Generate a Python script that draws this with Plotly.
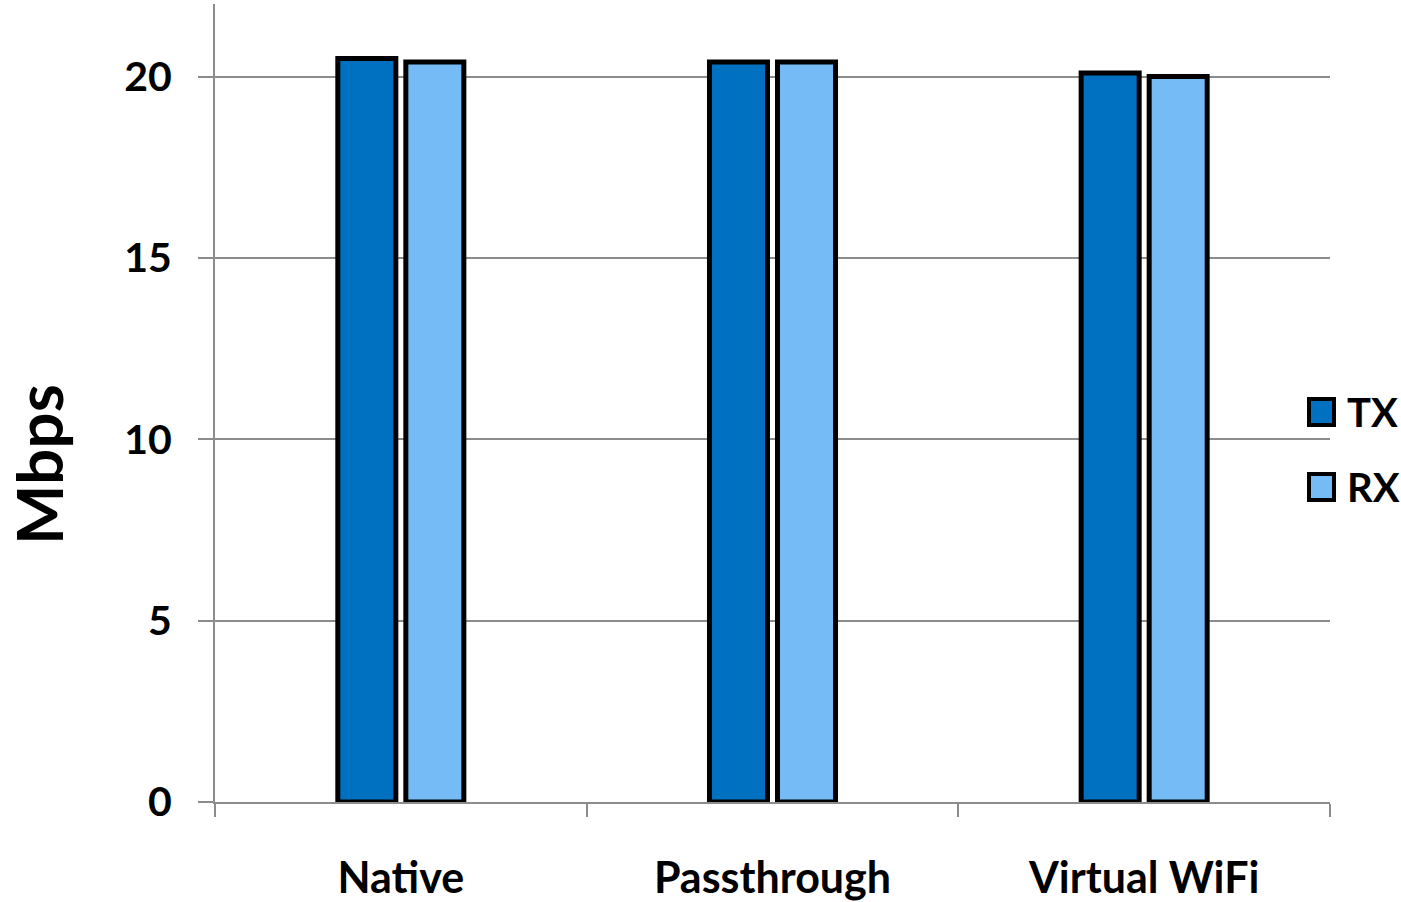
import plotly.graph_objects as go

categories = ["Native", "Passthrough", "Virtual WiFi"]
tx_mbps = [20.5, 20.4, 20.1]
rx_mbps = [20.4, 20.4, 20.0]
y_ticks = [0, 5, 10, 15, 20]
series_names = ["TX", "RX"]

TX_COLOR = "#0070C0"
RX_COLOR = "#75BBF5"
GRID = "#8C8C8C"
FONT = "Lato"

fig = go.Figure()
fig.add_trace(go.Bar(x=categories, y=tx_mbps, name=series_names[0],
                     marker=dict(color=TX_COLOR, line=dict(color="black", width=5)),
                     showlegend=False))
fig.add_trace(go.Bar(x=categories, y=rx_mbps, name=series_names[1],
                     marker=dict(color=RX_COLOR, line=dict(color="black", width=5)),
                     showlegend=False))

# legend swatches and labels on the right
for i, (name, color) in enumerate(zip(series_names, [TX_COLOR, RX_COLOR])):
    yc = 412 + 75 * i  # pixel row centre
    fig.add_shape(type="rect", xref="paper", yref="paper",
                  x0=(1309 - 215) / 1115, x1=(1334 - 215) / 1115,
                  y0=(802 - (yc + 13)) / 798, y1=(802 - (yc - 13)) / 798,
                  fillcolor=color, line=dict(color="black", width=4))
    fig.add_annotation(xref="paper", yref="paper",
                       x=(1345 - 215) / 1115, y=(802 - yc) / 798,
                       xanchor="left", yanchor="middle", showarrow=False,
                       text=f"<b>{name}</b>",
                       font=dict(family=FONT, size=40, color="black"))

fig.add_annotation(xref="paper", yref="paper", x=(38 - 215) / 1115,
                   y=(802 - 465) / 798, xanchor="center", yanchor="middle",
                   textangle=-90, showarrow=False, text="<b>Mbps</b>",
                   font=dict(family=FONT, size=64, color="black"))

fig.update_layout(
    width=1401, height=902,
    margin=dict(l=215, r=71, t=4, b=100),
    paper_bgcolor="white", plot_bgcolor="white",
    barmode="group", bargap=0.634, bargroupgap=0.147,
    font=dict(family=FONT, size=40, color="black"),
    xaxis=dict(showline=True, linecolor=GRID, linewidth=2, automargin=False,
               ticks="outside", tickson="boundaries", ticklen=13,
               tickcolor=GRID, tickwidth=2, ticklabelstandoff=37,
               tickfont=dict(family=FONT, size=43, color="black", weight="bold"),
               showgrid=False),
    yaxis=dict(range=[0, 22], tickvals=y_ticks, showline=True, linecolor=GRID,
               linewidth=2, ticks="outside", ticklen=15, tickcolor=GRID,
               tickwidth=2, ticklabelstandoff=18, showgrid=True, gridcolor=GRID,
               gridwidth=2, zeroline=False, automargin=False,
               tickfont=dict(family=FONT, size=41, color="black", weight="bold")),
)

fig.write_html("out.html")
